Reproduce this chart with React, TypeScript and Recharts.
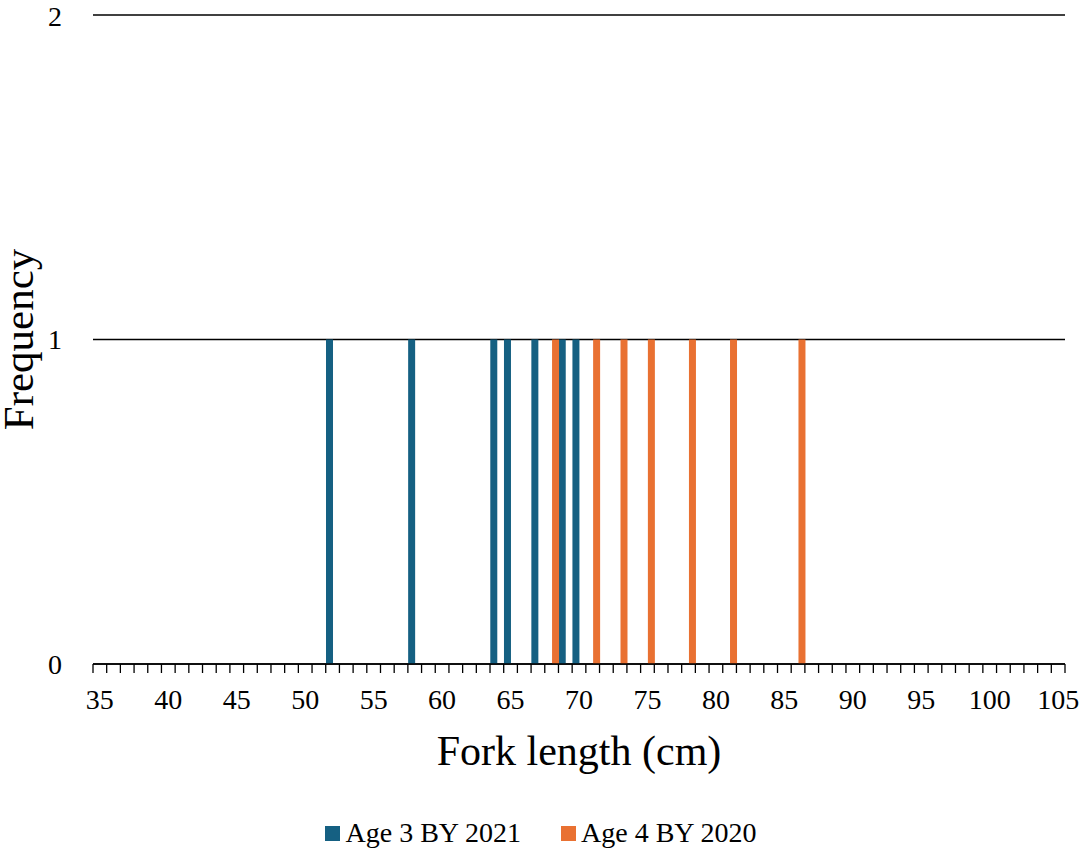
import { BarChart, Bar, XAxis, YAxis, CartesianGrid, Legend } from "recharts";

// fork length classes (cm), one category per cm
const forkLengths = [
  35, 36, 37, 38, 39, 40, 41, 42, 43, 44, 45, 46, 47, 48, 49, 50, 51, 52, 53, 54,
  55, 56, 57, 58, 59, 60, 61, 62, 63, 64, 65, 66, 67, 68, 69, 70, 71, 72, 73, 74,
  75, 76, 77, 78, 79, 80, 81, 82, 83, 84, 85, 86, 87, 88, 89, 90, 91, 92, 93, 94,
  95, 96, 97, 98, 99, 100, 101, 102, 103, 104, 105,
];

const age3Lengths = [52, 58, 64, 65, 67, 69, 70];
const age3Counts = [1, 1, 1, 1, 1, 1, 1];

const age4Lengths = [68, 71, 73, 75, 78, 81, 86];
const age4Counts = [1, 1, 1, 1, 1, 1, 1];

const freqTicks = [0, 1, 2];

const FONT = '"Liberation Serif", "Times New Roman", serif';
const BLUE = "#156082";
const ORANGE = "#E97132";

const W = 1082;
const H = 848;
const PLOT_LEFT = 93;
const PLOT_RIGHT = 1065;
const band = (PLOT_RIGHT - PLOT_LEFT) / forkLengths.length;

const countAt = (lengths: number[], counts: number[], len: number) => {
  const i = lengths.indexOf(len);
  return i >= 0 ? counts[i] : 0;
};

const data = forkLengths.map((len) => ({
  length: len,
  age3: countAt(age3Lengths, age3Counts, len),
  age4: countAt(age4Lengths, age4Counts, len),
}));

function LengthTick(props: any) {
  const { x, y, payload, index } = props;
  const left = x - band / 2;
  const isLast = index === forkLengths.length - 1;
  return (
    <g>
      <line x1={left} x2={left} y1={y - 25} y2={y - 16} stroke="#000" strokeWidth={1.3} />
      {isLast && (
        <line x1={x + band / 2} x2={x + band / 2} y1={y - 25} y2={y - 16} stroke="#000" strokeWidth={1.3} />
      )}
      {payload.value % 5 === 0 && (
        <text x={x} y={y} dy="0.71em" textAnchor="middle" style={{ fontSize: 28, fontFamily: FONT }} fill="#000">
          {payload.value}
        </text>
      )}
    </g>
  );
}

function LegendBox() {
  const items = [
    { label: "Age 3 BY 2021", color: BLUE },
    { label: "Age 4 BY 2020", color: ORANGE },
  ];
  return (
    <div
      style={{
        height: 40,
        display: "flex",
        justifyContent: "center",
        alignItems: "center",
        gap: 40,
        fontFamily: FONT,
        fontSize: 28,
        color: "#000",
        paddingTop: 10,
        boxSizing: "border-box",
      }}
    >
      {items.map((it) => (
        <div key={it.label} style={{ display: "flex", alignItems: "center", gap: 5 }}>
          <span style={{ width: 15, height: 15, background: it.color, display: "inline-block" }} />
          <span>{it.label}</span>
        </div>
      ))}
    </div>
  );
}

export default function App() {
  return (
    <div style={{ width: W, height: H, background: "#fff" }}>
      <style>{"body{margin:0}"}</style>
      <BarChart
        width={W}
        height={H}
        data={data}
        margin={{ top: 15, right: W - PLOT_RIGHT, left: 0, bottom: 0 }}
        barCategoryGap="2%"
        barGap={0}
      >
        <CartesianGrid vertical={false} stroke="#000" strokeWidth={1.5} />
        <XAxis
          dataKey="length"
          interval={0}
          height={144}
          tickSize={0}
          tickMargin={25}
          tickLine={false}
          axisLine={{ stroke: "#000", strokeWidth: 1.5 }}
          tick={<LengthTick />}
          label={{
            value: "Fork length (cm)",
            position: "insideBottom",
            offset: 43,
            style: { fontSize: 42, fontFamily: FONT, fill: "#000" },
          }}
        />
        <YAxis
          domain={[0, 2]}
          ticks={freqTicks}
          width={PLOT_LEFT}
          tickSize={0}
          tickMargin={31}
          tickLine={false}
          axisLine={false}
          tick={{ fontSize: 28, fontFamily: FONT, fill: "#000" }}
          label={{
            value: "Frequency",
            angle: -90,
            position: "insideLeft",
            offset: 18,
            style: { fontSize: 43, fontFamily: FONT, fill: "#000", textAnchor: "middle" },
          }}
        />
        <Legend
          verticalAlign="bottom"
          height={40}
          content={<LegendBox />}
          wrapperStyle={{ left: 0, width: W }}
        />
        <Bar dataKey="age3" name="Age 3 BY 2021" fill={BLUE} isAnimationActive={false} />
        <Bar dataKey="age4" name="Age 4 BY 2020" fill={ORANGE} isAnimationActive={false} />
      </BarChart>
    </div>
  );
}
